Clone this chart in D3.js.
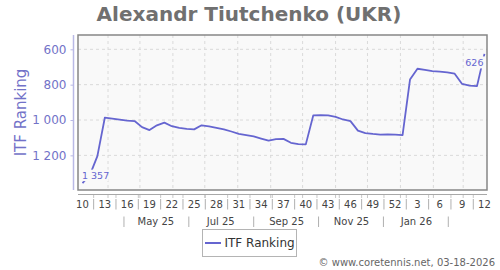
<!DOCTYPE html>
<html><head><meta charset="utf-8">
<script src="https://cdn.jsdelivr.net/npm/d3@7"></script>
<style>body{margin:0;background:#fff}svg{display:block;font-family:"DejaVu Sans",Verdana,sans-serif}</style>
</head><body><div id="chart"></div>
<script>
// ---- data ----
const startDate = "2025-03-08";           // first weekly ranking point (week 10, 2025)
const rankings = [1357,1310,1204,987,992,998,1004,1006,1040,1057,1030,1015,1035,1045,1050,1053,1030,1036,1044,
  1053,1065,1078,1085,1093,1105,1117,1108,1107,1129,1136,1138,974,972,974,982,997,1006,1060,1074,1079,1083,1082,
  1083,1085,771,710,716,723,726,730,738,796,805,808,626];
const weekLabels = ["10","13","16","19","22","25","28","31","34","37","40","43","46","49","52","3","6","9","12"];
const monthLabels = ["May 25","Jul 25","Sep 25","Nov 25","Jan 26"];
const monthLabelDates = ["2025-05-16","2025-07-16","2025-09-16","2025-11-16","2026-01-16"];
const monthSepDates = ["2025-04-16","2025-06-16","2025-08-16","2025-10-16","2025-12-16","2026-02-15"];
const monthGridDates = ["2025-04-01","2025-05-01","2025-06-01","2025-07-01","2025-08-01","2025-09-01","2025-10-01",
  "2025-11-01","2025-12-01","2026-01-01","2026-02-01","2026-03-01"];
const yTicks = [600,800,1000,1200];
const seriesName = "ITF Ranking";
const title = "Alexandr Tiutchenko (UKR)";
const credit = "© www.coretennis.net, 03-18-2026";

// ---- layout ----
const W=500,H=270, L=78, R=487, T=35, B=190;
const lineColor="#6565d0", labColor="#7272c8";
const parse = s => new Date(s+"T00:00:00Z");
const DAY = 864e5;
const anchor = parse("2025-04-01");
const x = d3.scaleUtc().domain([new Date(+anchor-28.22*DAY), new Date(+anchor+356.4*DAY)]).range([L,R]);
const y = d3.scaleLinear().domain([519,1396]).range([T,B]);
const loc = d3.formatLocale({decimal:".",thousands:" ",grouping:[3],currency:["",""]});
const fmt = loc.format(",");

const data = rankings.map((v,i)=>({d:new Date(+parse(startDate)+i*7*DAY), v}));

const svg = d3.select("#chart").append("svg").attr("width",W).attr("height",H);

svg.append("text").attr("x",249).attr("y",21).attr("text-anchor","middle")
  .attr("font-size",20).attr("font-weight","bold").attr("fill","#707070").text(title);

// plot background
svg.append("rect").attr("x",L).attr("y",T).attr("width",R-L).attr("height",B-T).attr("fill","#f9f9f9");

// grid
svg.append("g").selectAll("line").data(yTicks).join("line")
  .attr("x1",L).attr("x2",R).attr("y1",d=>y(d)).attr("y2",d=>y(d))
  .attr("stroke","#dadada").attr("stroke-dasharray","3,3");
svg.append("g").selectAll("line").data(monthGridDates).join("line")
  .attr("x1",d=>x(parse(d))).attr("x2",d=>x(parse(d))).attr("y1",T).attr("y2",B)
  .attr("stroke","#dadada").attr("stroke-dasharray","3,3");

// line
svg.append("path").datum(data).attr("fill","none").attr("stroke",lineColor).attr("stroke-width",1.8)
  .attr("stroke-linejoin","round")
  .attr("d",d3.line().x(d=>x(d.d)).y(d=>y(d.v)));

// point labels (first, last)
const first=data[0], last=data[data.length-1];
const lab = svg.append("g").attr("font-size",9.5).attr("fill",lineColor);
const fx=x(first.d), fy=y(first.v);
lab.append("rect").attr("x",fx-2).attr("y",fy-13.5).attr("width",28).attr("height",11.5).attr("fill","#f9f9f9");
lab.append("text").attr("x",fx-0.5).attr("y",fy-4).text(fmt(first.v));
const lx=x(last.d), ly=y(last.v);
lab.append("rect").attr("x",lx-20).attr("y",ly+2.5).attr("width",21).attr("height",12).attr("fill","#f9f9f9");
lab.append("text").attr("x",lx-1).attr("y",ly+12.5).attr("text-anchor","end").text(fmt(last.v));

// frame
svg.append("rect").attr("x",L).attr("y",T).attr("width",R-L).attr("height",B-T)
  .attr("fill","none").attr("stroke","#868686").attr("stroke-width",1.5);

// y axis
const ya = svg.append("g").attr("transform","translate(73.5,0)")
  .call(d3.axisLeft(y).tickValues(yTicks).tickFormat(fmt).tickSize(3).tickPadding(4));
ya.select(".domain").attr("stroke","#b9b9e6").attr("stroke-width",1.5).attr("d",`M0,${T}V${B}`);
ya.selectAll(".tick line").attr("stroke","#b9b9e6");
ya.selectAll(".tick text").attr("fill",labColor).attr("font-size",12).attr("font-family","DejaVu Sans");
svg.append("text").attr("transform","translate(21,112.5) rotate(-90)").attr("text-anchor","middle")
  .attr("dominant-baseline","central").attr("font-size",15).attr("fill",labColor).text(seriesName);

// x axis line
svg.append("line").attr("x1",L).attr("x2",R).attr("y1",194.5).attr("y2",194.5).attr("stroke","#a8a8a8");
const weekDates = weekLabels.map((w,i)=>data[i*3].d);
const weekSeps = weekDates.slice(1).map((d,i)=>new Date((+d + +weekDates[i])/2));
svg.append("g").selectAll("line").data(weekSeps.concat(monthGridDates.map(parse))).join("line")
  .attr("x1",d=>x(d)).attr("x2",d=>x(d)).attr("y1",195).attr("y2",198).attr("stroke","#c8c8c8");

const xa = svg.append("g").attr("font-size",10).attr("fill","#444");
xa.selectAll("text.w").data(weekLabels).join("text").attr("class","w")
  .attr("x",(d,i)=>x(weekDates[i])).attr("y",204).attr("dominant-baseline","central")
  .attr("text-anchor","middle").text(d=>d);
xa.selectAll("line.ws").data(weekSeps).join("line").attr("class","ws")
  .attr("x1",d=>x(d)).attr("x2",d=>x(d)).attr("y1",199).attr("y2",209.5).attr("stroke","#b0b0b0");
xa.selectAll("text.m").data(monthLabels).join("text").attr("class","m")
  .attr("x",(d,i)=>x(parse(monthLabelDates[i]))).attr("y",221.5).attr("dominant-baseline","central")
  .attr("text-anchor","middle").text(d=>d);
xa.selectAll("line.ms").data(monthSepDates).join("line").attr("class","ms")
  .attr("x1",d=>x(parse(d))).attr("x2",d=>x(parse(d))).attr("y1",216.5).attr("y2",227).attr("stroke","#b0b0b0");

// legend
const lg = svg.append("g");
lg.append("rect").attr("x",202.5).attr("y",229.5).attr("width",94).attr("height",27)
  .attr("fill","#fff").attr("stroke","#b4b4b4");
lg.append("line").attr("x1",205).attr("x2",221).attr("y1",243).attr("y2",243).attr("stroke",lineColor).attr("stroke-width",2);
lg.append("text").attr("x",224.5).attr("y",243).attr("dominant-baseline","central").attr("font-size",12)
  .attr("fill","#333").text(seriesName);

svg.append("text").attr("x",495).attr("y",262).attr("dominant-baseline","central").attr("text-anchor","end")
  .attr("font-size",10).attr("fill","#666").text(credit);
</script></body></html>
